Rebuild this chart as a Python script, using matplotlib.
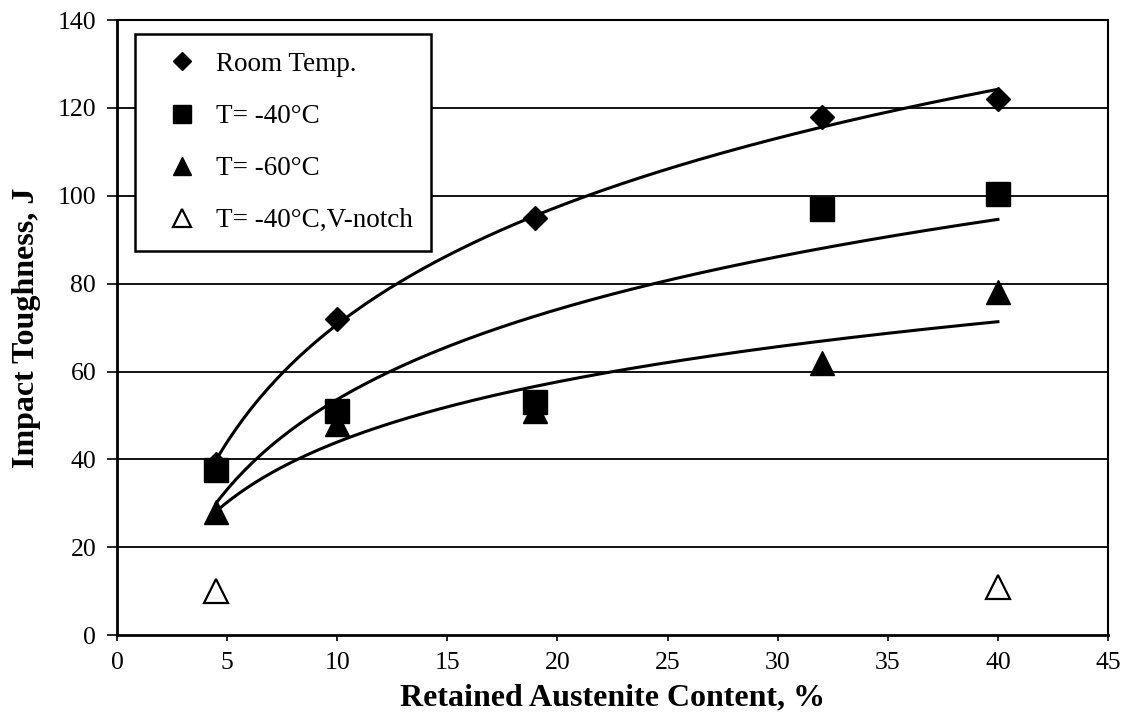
import numpy as np
import matplotlib
matplotlib.use("Agg")
import matplotlib.pyplot as plt

plt.rcParams['font.family'] = ['Liberation Serif', 'DejaVu Serif']

# retained austenite content, %
x_all = [4.5, 10, 19, 32, 40]
room_temp = [39, 72, 95, 118, 122]
t_m40 = [37.5, 51, 53, 97, 100.5]
t_m60 = [28, 48, 51, 62, 78]

x_vnotch = [4.5, 40]
t_m40_vnotch = [10, 11]

fig = plt.figure(figsize=(11.32, 7.2), dpi=100)
ax = fig.add_axes([0.1034, 0.118, 0.8754, 0.854])

# horizontal grid
for yv in range(20, 140, 20):
    ax.axhline(yv, color='black', lw=1.3, zorder=1)

# logarithmic trend lines (Excel style)
xs = np.linspace(min(x_all), max(x_all), 200)
for ys in (room_temp, t_m40, t_m60):
    a, b = np.polyfit(np.log(x_all), ys, 1)
    ax.plot(xs, a * np.log(xs) + b, color='black', lw=2.2, zorder=2)

ax.plot(x_all, room_temp, 'D', color='black', ms=12, ls='none',
        label='Room Temp.', zorder=3)
ax.plot(x_all, t_m40, 's', color='black', ms=17, ls='none',
        label='T= -40°C', zorder=3)
ax.plot(x_all, t_m60, '^', color='black', ms=17, ls='none',
        label='T= -60°C', zorder=3)
ax.plot(x_vnotch, t_m40_vnotch, '^', mfc='white', mec='black', mew=1.6,
        ms=17, ls='none', label='T= -40°C,V-notch', zorder=3)

ax.set_xlim(0, 45)
ax.set_ylim(0, 140)
ax.set_xticks(range(0, 50, 5))
ax.set_yticks(range(0, 160, 20))
ax.tick_params(axis='both', labelsize=18.5, width=1.2,
               direction='out', colors='black')
ax.tick_params(axis='x', length=4, pad=8)
ax.tick_params(axis='y', length=7, pad=8)

for side in ('left', 'bottom'):
    ax.spines[side].set_linewidth(2)
for side in ('top', 'right'):
    ax.spines[side].set_linewidth(1.5)

ax.set_xlabel('Retained Austenite Content, %', fontsize=23,
              fontweight='bold', labelpad=7)
ax.set_ylabel('Impact Toughness, J', fontsize=23, fontweight='bold',
              labelpad=12)

leg = ax.legend(loc='upper left', bbox_to_anchor=(0.018, 0.977),
                numpoints=1, fontsize=19.5, labelspacing=1.0,
                handlelength=2.2, handletextpad=0.15, borderpad=0.65,
                borderaxespad=0, fancybox=False, framealpha=1,
                edgecolor='black', markerscale=0.75)
leg.get_frame().set_linewidth(1.8)

fig.savefig('out.png', dpi=100)
